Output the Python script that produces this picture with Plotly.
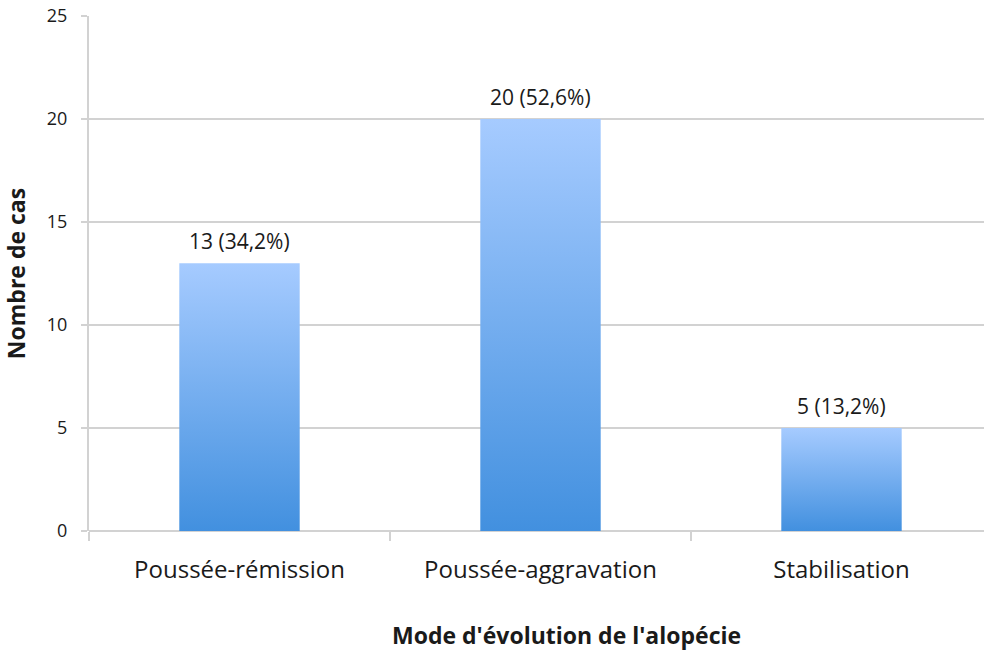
import plotly.graph_objects as go

# Data
categories = ["Poussée-rémission", "Poussée-aggravation", "Stabilisation"]
cases = [13, 20, 5]
percent_labels = ["34,2%", "52,6%", "13,2%"]

FONT = "Open Sans"
TEXT = "#1a1a1a"
GRID = "#d2d2d2"
BAR_HALF = 0.2

fig = go.Figure()

# Bars drawn as filled shapes so each one gets a vertical gradient
for i, v in enumerate(cases):
    fig.add_trace(go.Scatter(
        x=[i - BAR_HALF, i + BAR_HALF, i + BAR_HALF, i - BAR_HALF, i - BAR_HALF],
        y=[0, 0, v, v, 0],
        mode="lines",
        fill="toself",
        fillgradient=dict(type="vertical",
                          colorscale=[[0, "#4290df"], [1, "#a6cbff"]]),
        line=dict(width=0),
        hoverinfo="skip",
        showlegend=False,
    ))

# Value labels above the bars
annotations = [
    dict(x=i, y=v, xref="x", yref="y",
         text=f"{v} ({p})", showarrow=False,
         xanchor="center", yanchor="middle", yshift=22,
         font=dict(family=FONT, size=21, color=TEXT))
    for i, (v, p) in enumerate(zip(cases, percent_labels))
]

# x-axis title, sitting at the bottom edge of the figure
annotations.append(dict(
    text="<b>Mode d'évolution de l'alopécie</b>",
    xref="paper", yref="paper",
    x=(566 - 89) / 895, y=-(653 - 531) / 515,
    xanchor="center", yanchor="bottom",
    showarrow=False,
    font=dict(size=23, family=FONT, color=TEXT),
))

fig.update_layout(
    width=984, height=654,
    margin=dict(l=89, r=0, t=16, b=123),
    plot_bgcolor="white",
    paper_bgcolor="white",
    font=dict(family=FONT, color=TEXT),
    xaxis=dict(
        range=[-0.5, -0.5 + 895 / 301],
        tickmode="array",
        tickvals=list(range(len(categories))),
        ticktext=categories,
        ticks="",
        tickfont=dict(size=24),
        ticklabelstandoff=22,
        showgrid=False,
        zeroline=False,
        showline=False,
        minor=dict(tickmode="array", tickvals=[-0.5, 0.5, 1.5, 2.5],
                   ticks="outside", ticklen=9, tickwidth=2, tickcolor=GRID,
                   showgrid=False),
    ),
    yaxis=dict(
        range=[0, 25],
        dtick=5,
        ticks="outside",
        ticklen=6,
        tickwidth=2,
        tickcolor=GRID,
        tickfont=dict(size=18),
        ticklabelstandoff=10,
        showgrid=True,
        gridcolor=GRID,
        gridwidth=2,
        zeroline=True,
        zerolinecolor=GRID,
        zerolinewidth=2,
        showline=True,
        linecolor=GRID,
        linewidth=2,
        title=dict(text="<b>Nombre de cas</b>", font=dict(size=23), standoff=15),
    ),
    annotations=annotations,
)

fig.write_html("out.html")
